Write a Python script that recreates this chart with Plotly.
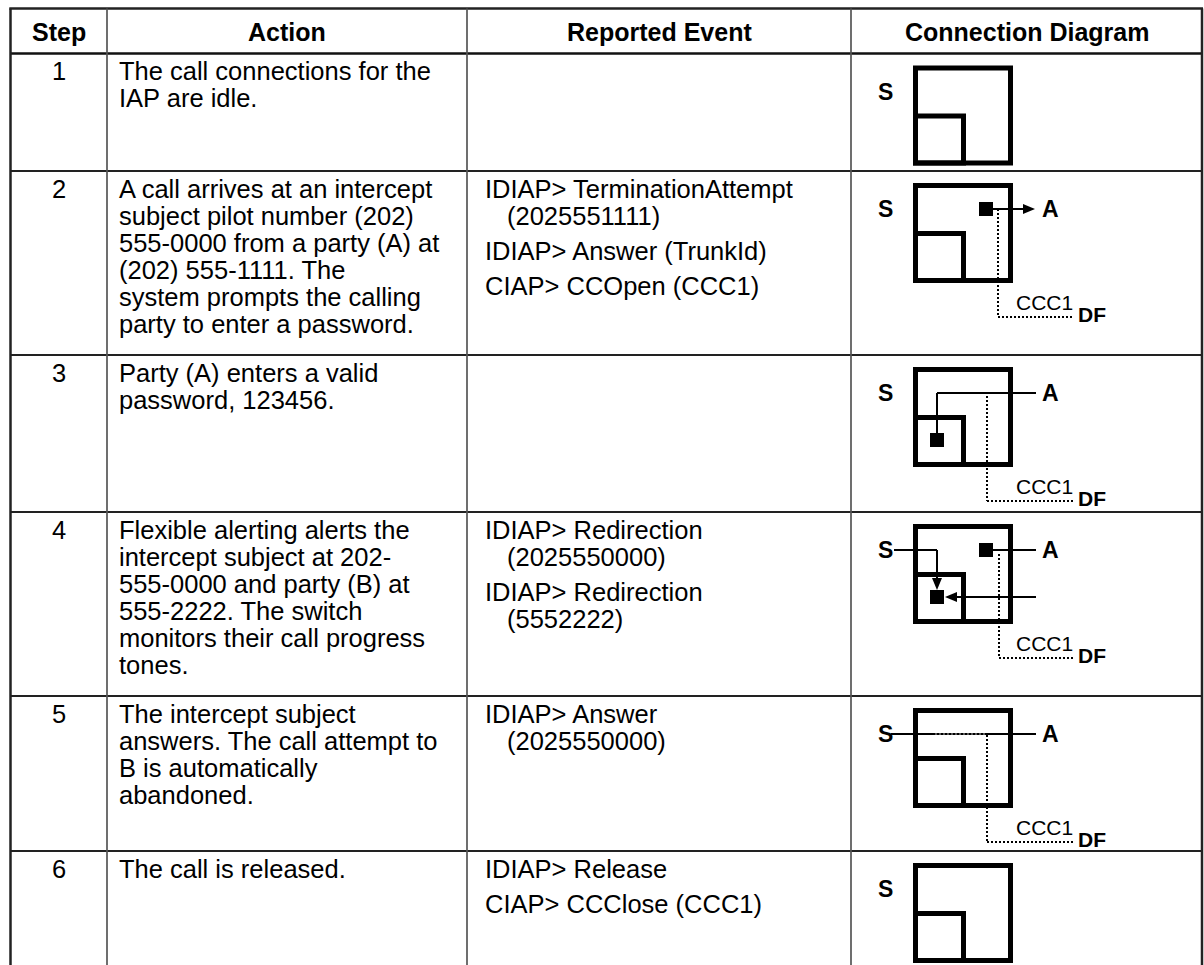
import plotly.graph_objects as go

# ---------------- data (text content of the table) ----------------
headers = ["Step", "Action", "Reported Event", "Connection Diagram"]
steps = ["1", "2", "3", "4", "5", "6"]
actions = [
    ["The call connections for the", "IAP are idle."],
    ["A call arrives at an intercept", "subject pilot number (202)",
     "555-0000 from a party (A) at", "(202) 555-1111. The",
     "system prompts the calling", "party to enter a password."],
    ["Party (A) enters a valid", "password, 123456."],
    ["Flexible alerting alerts the", "intercept subject at 202-",
     "555-0000 and party (B) at", "555-2222. The switch",
     "monitors their call progress", "tones."],
    ["The intercept subject", "answers. The call attempt to",
     "B is automatically", "abandoned."],
    ["The call is released."],
]
events = [
    [],
    [["IDIAP> TerminationAttempt", "(2025551111)"], ["IDIAP> Answer (TrunkId)"],
     ["CIAP> CCOpen (CCC1)"]],
    [],
    [["IDIAP> Redirection", "(2025550000)"], ["IDIAP> Redirection", "(5552222)"]],
    [["IDIAP> Answer", "(2025550000)"]],
    [["IDIAP> Release"], ["CIAP> CCClose (CCC1)"]],
]
diagrams = ["idle", "attempt", "password", "alerting", "answered", "idle"]
diagram_labels = {"subject": "S", "party": "A", "ccc": "CCC1", "df": "DF"}

# ---------------- layout constants (page pixel coordinates) ----------------
W, H = 1204, 965
col_x = [10.5, 107, 467, 851, 1202]
row_y = [8.5, 53.5, 171, 355, 512, 696, 851]
FONT = "Liberation Sans, Arial, Helvetica, sans-serif"
BODY = 25.5
HEAD = 25
LBL = 23
LINE_STEP = 27
PARA_STEP = 35
FIRST = 17.5

shapes = []
annotations = []


def seg(x0, y0, x1, y1, w=2, color="black", dash="solid"):
    shapes.append(dict(type="line", xref="x", yref="y", x0=x0, y0=y0, x1=x1, y1=y1,
                       line=dict(color=color, width=w, dash=dash)))


def rect(x0, y0, x1, y1, w=5, fill=None):
    d = dict(type="rect", xref="x", yref="y", x0=x0, y0=y0, x1=x1, y1=y1,
             line=dict(color="black", width=w))
    if fill:
        d["fillcolor"] = fill
        d["line"] = dict(width=0)
    shapes.append(d)


def tri(pts):
    p = "M " + " L ".join(f"{x},{y}" for x, y in pts) + " Z"
    shapes.append(dict(type="path", xref="x", yref="y", path=p, fillcolor="black",
                       line=dict(width=0)))


def text(x, y, s, size=BODY, bold=False, anchor="left"):
    if bold:
        s = "<b>" + s + "</b>"
    annotations.append(dict(x=x, y=y, xref="x", yref="y", text=s, showarrow=False,
                            xanchor=anchor, yanchor="middle", borderpad=0,
                            font=dict(family=FONT, size=size, color="black")))


def square(cx, cy):
    rect(cx - 7, cy - 7, cx + 7, cy + 7, fill="black")


def arrow_right(x0, x1, y):
    seg(x0, y, x1 - 10, y)
    tri([(x1, y), (x1 - 12, y - 5), (x1 - 12, y + 5)])


def arrow_left(x0, x1, y):
    seg(x0, y, x1 + 10, y)
    tri([(x1, y), (x1 + 12, y - 5), (x1 + 12, y + 5)])


def arrow_down(x, y0, y1):
    seg(x, y0, x, y1 - 10)
    tri([(x, y1), (x - 5, y1 - 12), (x + 5, y1 - 12)])


DOT = "2px,2px"


def df_path(bx, by, dx, dy0):
    seg(bx + dx, by + dy0, bx + dx, by + 134, w=2, dash=DOT)
    seg(bx + dx, by + 134, bx + 160, by + 134, w=2, dash=DOT)
    text(bx + 131, by + 119, diagram_labels["ccc"], size=21, anchor="center")
    text(bx + 179, by + 131, diagram_labels["df"], size=21, bold=True, anchor="center")


def draw_diagram(kind, top):
    bx, by = 913, top + 12
    rect(bx + 2.5, by + 2.5, bx + 97.5, by + 97.5)
    rect(bx + 2.5, by + 50.5, bx + 50.5, by + 97.5)
    text(bx - 28, by + 26, diagram_labels["subject"], size=LBL, bold=True, anchor="center")
    if kind == "idle":
        return
    text(bx + 137, by + 26, diagram_labels["party"], size=LBL, bold=True, anchor="center")
    if kind == "attempt":
        square(bx + 73, by + 26)
        arrow_right(bx + 80, bx + 122, by + 26)
        df_path(bx, by, 85, 26)
    elif kind == "password":
        seg(bx + 24, by + 26, bx + 123, by + 26)
        seg(bx + 24, by + 26, bx + 24, by + 67)
        square(bx + 24, by + 73)
        df_path(bx, by, 74, 29)
    elif kind == "alerting":
        seg(bx - 19, by + 26, bx + 24, by + 26)
        arrow_down(bx + 24, by + 26, by + 66)
        square(bx + 24, by + 73)
        square(bx + 73, by + 26)
        seg(bx + 80, by + 26, bx + 123, by + 26)
        arrow_left(bx + 123, bx + 32, by + 73)
        df_path(bx, by, 86, 30)
    elif kind == "answered":
        seg(bx - 22, by + 26, bx + 123, by + 26)
        seg(bx + 22, by + 26, bx + 72, by + 26, w=1.5, color="#777", dash=DOT)
        df_path(bx, by, 74, 27)


# ---------------- table grid ----------------
seg(col_x[0] - 1.2, row_y[0], col_x[-1] + 1, row_y[0], w=2.5, color="#222")
seg(col_x[0], row_y[1], col_x[-1], row_y[1], w=2.5, color="#111")
for y in row_y[2:]:
    seg(col_x[0], y, col_x[-1], y, w=2, color="#222")
for i, x in enumerate(col_x):
    outer = i in (0, len(col_x) - 1)
    seg(x, row_y[0], x, H + 2, w=2.5 if outer else 1.7, color="#222" if outer else "#555")

# header
for i, h in enumerate(headers):
    text((col_x[i] + col_x[i + 1]) / 2, 32, h, size=HEAD, bold=True, anchor="center")

# rows
for r in range(len(steps)):
    top = row_y[r + 1]
    y0 = top + FIRST
    text((col_x[0] + col_x[1]) / 2, y0, steps[r], anchor="center")
    for k, line in enumerate(actions[r]):
        text(col_x[1] + 11, y0 + k * LINE_STEP, line)
    y = y0
    for para in events[r]:
        for k, line in enumerate(para):
            text(col_x[2] + 17 + (22 if k else 0), y + k * LINE_STEP, line)
        y += (len(para) - 1) * LINE_STEP + PARA_STEP
    draw_diagram(diagrams[r], top)

fig = go.Figure()
fig.update_layout(
    width=W, height=H, margin=dict(l=0, r=0, t=0, b=0),
    paper_bgcolor="white", plot_bgcolor="white",
    xaxis=dict(range=[0, W], visible=False, fixedrange=True),
    yaxis=dict(range=[H, 0], visible=False, fixedrange=True),
    shapes=shapes, annotations=annotations, showlegend=False,
)
fig.write_html(
    "out.html",
    config={"displayModeBar": False},
    post_script="document.body.style.margin='0';document.body.style.overflow='hidden';",
)
